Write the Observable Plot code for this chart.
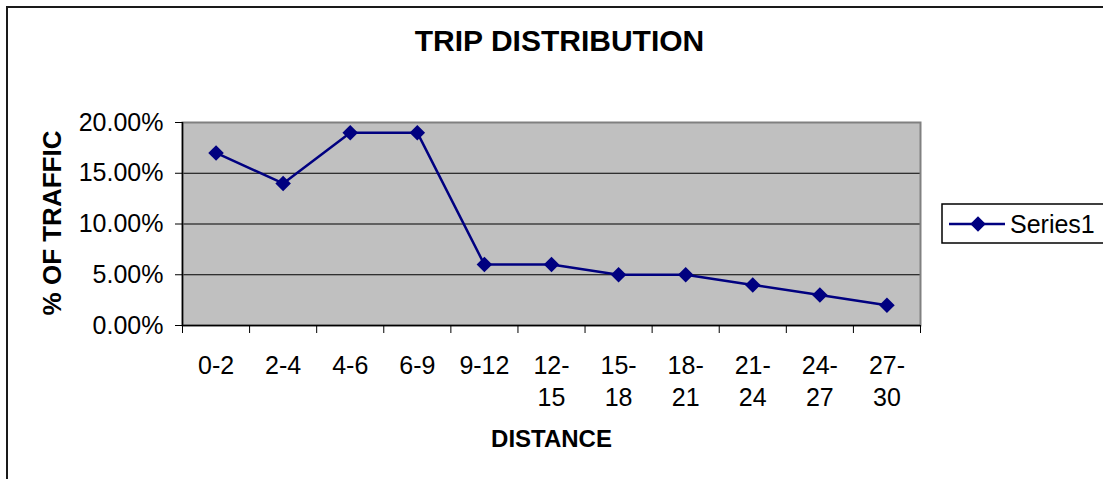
<!DOCTYPE html>
<html>
<head>
<meta charset="utf-8">
<script src="https://cdn.jsdelivr.net/npm/d3@7"></script>
<script src="https://cdn.jsdelivr.net/npm/@observablehq/plot@0.6"></script>
<style>
  html, body { margin: 0; padding: 0; background: white; }
  #chart { width: 1103px; height: 479px; position: relative; overflow: hidden; }
</style>
</head>
<body>
<div id="chart"></div>
<script>
// ---- Data ----
const categories = ["0-2", "2-4", "4-6", "6-9", "9-12", "12-15", "15-18", "18-21", "21-24", "24-27", "27-30"];
const categoryLabels = ["0-2", "2-4", "4-6", "6-9", "9-12", "12-\n15", "15-\n18", "18-\n21", "21-\n24", "24-\n27", "27-\n30"];
const shareOfTraffic = [0.17, 0.14, 0.19, 0.19, 0.06, 0.06, 0.05, 0.05, 0.04, 0.03, 0.02];
const yTicks = [0, 0.05, 0.10, 0.15, 0.20];
const gridTicks = [0.05, 0.10, 0.15];
const seriesName = "Series1";
const titleText = "TRIP DISTRIBUTION";
const xTitle = "DISTANCE";
const yTitle = "% OF TRAFFIC";

const rows = categories.map((c, i) => ({cat: c, label: categoryLabels[i], pos: i + 0.5, value: shareOfTraffic[i]}));
const boundaries = d3.range(categories.length + 1);

const navy = "#000080";
const font = "'Liberation Sans', Arial, Helvetica, sans-serif";

const svg = Plot.plot({
  width: 1103,
  height: 479,
  marginLeft: 182,
  marginRight: 183,
  marginTop: 122,
  marginBottom: 154,
  style: {fontFamily: font, fontSize: "25px", color: "black", background: "white"},
  x: {type: "linear", domain: [0, categories.length]},
  y: {domain: [0, 0.2]},
  marks: [
    Plot.frame({fill: "#c0c0c0", stroke: "none"}),
    Plot.ruleY(gridTicks, {stroke: "black", strokeWidth: 1}),
    Plot.frame({fill: "none", stroke: "#808080", strokeWidth: 2}),
    Plot.ruleX([0], {stroke: "black", strokeWidth: 1.5}),
    Plot.ruleY([0], {stroke: "black", strokeWidth: 1.5}),
    Plot.axisY({ticks: yTicks, tickFormat: d3.format(".2%"), tickSize: 7, tickPadding: 12, label: null, fontSize: 25}),
    Plot.axisX({ticks: boundaries, tickSize: 8, tickFormat: () => "", label: null}),
    Plot.text(rows, {x: "pos", y: () => 0, text: "label", lineAnchor: "top", dy: 25, lineHeight: 1.3, fontSize: 25}),
    Plot.line(rows, {x: "pos", y: "value", stroke: navy, strokeWidth: 2.5}),
    Plot.dot(rows, {x: "pos", y: "value", symbol: "diamond2", r: 7, fill: navy, stroke: "none"}),
    Plot.text([titleText], {frameAnchor: "top", lineAnchor: "middle", text: d => d, dx: 8, dy: -81, fontSize: 30, fontWeight: "bold"}),
    Plot.text([xTitle], {frameAnchor: "bottom", lineAnchor: "middle", text: d => d, dy: 113.5, fontSize: 24, fontWeight: "bold"}),
    Plot.text([yTitle], {frameAnchor: "left", lineAnchor: "middle", textAnchor: "middle", text: d => d, dx: -130, dy: -1, rotate: -90, fontSize: 26, fontWeight: "bold"})
  ]
});

// Outer chart border (extends beyond the visible window at right and bottom)
const s = d3.select(svg);
s.append("path")
  .attr("d", "M7,479 L7,7 L1103,7")
  .attr("fill", "none")
  .attr("stroke", "#1a1a1a")
  .attr("stroke-width", 2);

// Legend
const lg = s.append("g");
lg.append("rect")
  .attr("x", 942).attr("y", 204).attr("width", 200).attr("height", 39)
  .attr("fill", "white").attr("stroke", "black").attr("stroke-width", 1.5);
lg.append("line")
  .attr("x1", 949).attr("x2", 1005).attr("y1", 224).attr("y2", 224)
  .attr("stroke", navy).attr("stroke-width", 2.5);
lg.append("path")
  .attr("transform", "translate(978,224)")
  .attr("d", d3.symbol(d3.symbolDiamond2, Math.PI * 7 * 7)())
  .attr("fill", navy);
lg.append("text")
  .attr("x", 1010).attr("y", 232.5)
  .attr("text-anchor", "start")
  .attr("font-family", font).attr("font-size", 25)
  .attr("fill", "black")
  .text(seriesName);

document.getElementById("chart").appendChild(svg);
</script>
</body>
</html>
